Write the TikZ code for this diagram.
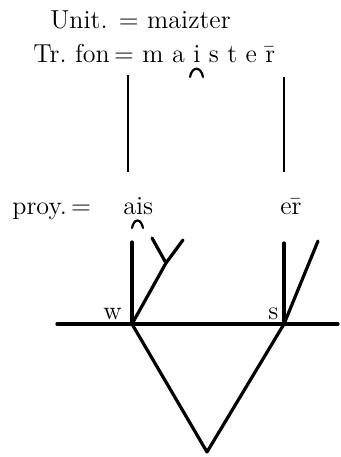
\documentclass[tikz,border=0pt]{standalone}
\usetikzlibrary{positioning}

\begin{document}
\begin{tikzpicture}[x=0.5pt, y=-0.5pt, font=\fontsize{13}{15}\selectfont,
  lbl/.style={anchor=base west, inner sep=0pt},
  stem/.style={line width=1.2pt},
  tree/.style={line width=1.6pt, line cap=round, line join=round},
  tie/.style={line width=1.1pt, line cap=round}]
  \useasboundingbox (0,0) rectangle (341,457);
  \node[lbl] (unit) at (50,28)  {Unit. = maizter};
  \node[lbl] (fon)  at (33,62)  {Tr.\ fon\,=\ m a i s t e \=r};
  \node[lbl] (proy) at (12,214) {proy.\,=};
  \node[lbl] (ais)  at (123,214) {ais};
  \node[lbl] (er)   at (280,214) {e\=r};
  \node[lbl] (wl)   at (103,319) {w};
  \node[lbl] (sl)   at (268,319) {s};

  \coordinate (lt) at (128,75);  \coordinate (lb) at (128,172);
  \coordinate (rt) at (284,77);  \coordinate (rb) at (284,172);
  \draw[stem] (lt) -- (lb);
  \draw[stem] (rt) -- (rb);

  \draw[tie] (190,77) .. controls (192,66) and (201,66) .. (203,77);
  \draw[tie] (132,228) .. controls (134,218) and (141,218) .. (143,228);

  \coordinate (w)    at (132,324);
  \coordinate (s)    at (284,324);
  \coordinate (root) at (207,452);
  \coordinate (hl)   at (57,324);
  \coordinate (hr)   at (338,324);
  \coordinate (wtop) at (132,242);
  \coordinate (fork) at (166,263);
  \coordinate (fa)   at (183,240);
  \coordinate (fb)   at (152,238);
  \coordinate (stop) at (284,243);
  \coordinate (sdia) at (318,241);

  \draw[tree] (hl) -- (hr);
  \draw[tree] (w) -- (root) -- (s);
  \draw[tree] (w) -- (wtop);
  \draw[tree] (w) -- (fork) -- (fa);
  \draw[tree] (fork) -- (fb);
  \draw[tree] (s) -- (stop);
  \draw[tree] (s) -- (sdia);
\end{tikzpicture}
\end{document}
